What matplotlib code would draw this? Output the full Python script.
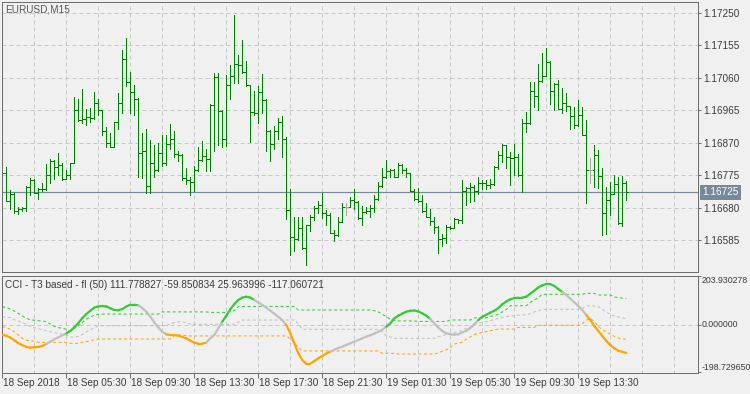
import matplotlib
matplotlib.use("Agg")
import matplotlib.pyplot as plt
import matplotlib.transforms as mtransforms
from matplotlib.collections import LineCollection
import numpy as np

plt.rcParams['font.family'] = ['Liberation Sans', 'DejaVu Sans']

# EURUSD M15, one bar every 15 min from 18 Sep 2018 01:30
symbol = 'EURUSD,M15'
first_open = 1.16790
highs = [1.16796, 1.16798, 1.16732, 1.16724, 1.16683, 1.16683, 1.16743, 1.16767, 1.16765, 1.16738,
         1.16751, 1.16808, 1.16821, 1.16820, 1.16839, 1.16810, 1.16790, 1.16810, 1.17004, 1.16997,
         1.17026, 1.16969, 1.16971, 1.17018, 1.16997, 1.16966, 1.16915, 1.16897, 1.16931, 1.17014,
         1.17141, 1.17176, 1.17077, 1.17040, 1.17000, 1.16897, 1.16909, 1.16878, 1.16862, 1.16868,
         1.16892, 1.16893, 1.16925, 1.16905, 1.16847, 1.16836, 1.16796, 1.16771, 1.16802, 1.16858,
         1.16874, 1.16852, 1.16983, 1.17075, 1.17075, 1.16966, 1.17067, 1.17096, 1.17244, 1.17127,
         1.17170, 1.17108, 1.17038, 1.17022, 1.17036, 1.17071, 1.16998, 1.16907, 1.16919, 1.16942,
         1.16948, 1.16886, 1.16736, 1.16652, 1.16654, 1.16652, 1.16629, 1.16658, 1.16685, 1.16700,
         1.16722, 1.16673, 1.16664, 1.16615, 1.16654, 1.16693, 1.16693, 1.16712, 1.16736, 1.16699,
         1.16685, 1.16683, 1.16689, 1.16718, 1.16755, 1.16796, 1.16819, 1.16794, 1.16794, 1.16810,
         1.16808, 1.16796, 1.16781, 1.16736, 1.16738, 1.16716, 1.16693, 1.16675, 1.16654, 1.16627,
         1.16603, 1.16629, 1.16627, 1.16650, 1.16648, 1.16761, 1.16741, 1.16753, 1.16745, 1.16771,
         1.16761, 1.16761, 1.16763, 1.16802, 1.16845, 1.16866, 1.16862, 1.16843, 1.16866, 1.16837,
         1.16940, 1.16960, 1.17047, 1.17047, 1.17100, 1.17131, 1.17147, 1.17108, 1.17044, 1.17053,
         1.17030, 1.17016, 1.16977, 1.16973, 1.16995, 1.16973, 1.16936, 1.16825, 1.16862, 1.16849,
         1.16796, 1.16741, 1.16755, 1.16775, 1.16771, 1.16774, 1.16757]
lows = [1.16773, 1.16699, 1.16675, 1.16665, 1.16662, 1.16671, 1.16671, 1.16718, 1.16722, 1.16706,
        1.16730, 1.16732, 1.16751, 1.16763, 1.16776, 1.16761, 1.16763, 1.16765, 1.16810, 1.16933,
        1.16927, 1.16921, 1.16931, 1.16940, 1.16952, 1.16892, 1.16857, 1.16857, 1.16857, 1.16911,
        1.16958, 1.17036, 1.16956, 1.16952, 1.16769, 1.16767, 1.16724, 1.16722, 1.16769, 1.16788,
        1.16802, 1.16805, 1.16851, 1.16827, 1.16816, 1.16761, 1.16749, 1.16716, 1.16730, 1.16788,
        1.16817, 1.16786, 1.16786, 1.16847, 1.16862, 1.16858, 1.16860, 1.16999, 1.17045, 1.17045,
        1.17073, 1.17036, 1.16872, 1.16950, 1.16927, 1.16956, 1.16845, 1.16817, 1.16851, 1.16882,
        1.16829, 1.16646, 1.16543, 1.16554, 1.16586, 1.16558, 1.16513, 1.16613, 1.16644, 1.16664,
        1.16650, 1.16630, 1.16605, 1.16582, 1.16598, 1.16638, 1.16658, 1.16681, 1.16677, 1.16648,
        1.16630, 1.16664, 1.16652, 1.16667, 1.16703, 1.16740, 1.16767, 1.16771, 1.16769, 1.16771,
        1.16782, 1.16771, 1.16728, 1.16703, 1.16697, 1.16667, 1.16652, 1.16630, 1.16607, 1.16548,
        1.16568, 1.16578, 1.16617, 1.16620, 1.16634, 1.16636, 1.16689, 1.16697, 1.16699, 1.16720,
        1.16734, 1.16736, 1.16738, 1.16747, 1.16794, 1.16814, 1.16796, 1.16747, 1.16775, 1.16773,
        1.16726, 1.16901, 1.16924, 1.16975, 1.16966, 1.17047, 1.17065, 1.16983, 1.16966, 1.16968,
        1.16956, 1.16962, 1.16911, 1.16913, 1.16919, 1.16892, 1.16695, 1.16753, 1.16740, 1.16738,
        1.16601, 1.16604, 1.16660, 1.16720, 1.16632, 1.16626, 1.16703]
closes = [1.16781, 1.16700, 1.16720, 1.16671, 1.16677, 1.16680, 1.16741, 1.16761, 1.16724, 1.16736,
          1.16734, 1.16776, 1.16817, 1.16798, 1.16804, 1.16763, 1.16775, 1.16810, 1.16966, 1.16936,
          1.16938, 1.16946, 1.16942, 1.16985, 1.16966, 1.16903, 1.16870, 1.16858, 1.16931, 1.16985,
          1.17114, 1.17047, 1.17018, 1.16997, 1.16839, 1.16847, 1.16743, 1.16810, 1.16790, 1.16839,
          1.16810, 1.16866, 1.16882, 1.16837, 1.16833, 1.16767, 1.16761, 1.16755, 1.16790, 1.16819,
          1.16831, 1.16823, 1.16981, 1.17061, 1.16964, 1.16882, 1.17040, 1.17065, 1.17100, 1.17096,
          1.17077, 1.17038, 1.16960, 1.16958, 1.17018, 1.16995, 1.16905, 1.16866, 1.16905, 1.16931,
          1.16880, 1.16673, 1.16595, 1.16589, 1.16621, 1.16562, 1.16629, 1.16652, 1.16679, 1.16689,
          1.16664, 1.16660, 1.16605, 1.16601, 1.16638, 1.16683, 1.16683, 1.16703, 1.16697, 1.16650,
          1.16667, 1.16669, 1.16679, 1.16705, 1.16743, 1.16769, 1.16788, 1.16790, 1.16771, 1.16804,
          1.16790, 1.16781, 1.16728, 1.16705, 1.16699, 1.16669, 1.16654, 1.16640, 1.16624, 1.16589,
          1.16592, 1.16624, 1.16622, 1.16646, 1.16644, 1.16728, 1.16738, 1.16741, 1.16730, 1.16753,
          1.16751, 1.16747, 1.16749, 1.16800, 1.16835, 1.16862, 1.16827, 1.16825, 1.16829, 1.16775,
          1.16928, 1.16927, 1.17020, 1.17007, 1.17049, 1.17065, 1.17106, 1.17022, 1.17042, 1.16969,
          1.16987, 1.16977, 1.16948, 1.16923, 1.16950, 1.16892, 1.16790, 1.16790, 1.16834, 1.16773,
          1.16665, 1.16703, 1.16721, 1.16748, 1.16635, 1.16752, 1.16725]
opens = [first_open] + closes[:-1]   # FX bars open at the previous close

price_ticks = [1.16585, 1.16680, 1.16775, 1.16870, 1.16965, 1.17060, 1.17155, 1.17250]
last_price = 1.16725

time_label_bars = [0, 16, 32, 48, 64, 80, 96, 112, 128, 144]
time_labels = ['18 Sep 2018', '18 Sep 05:30', '18 Sep 09:30', '18 Sep 13:30', '18 Sep 17:30',
               '18 Sep 21:30', '19 Sep 01:30', '19 Sep 05:30', '19 Sep 09:30', '19 Sep 13:30']

# CCI (T3 based) with floating levels
cci_title = 'CCI - T3 based - fl (50) 111.778827 -59.850834 25.963996 -117.060721'
cci = [-42, -45, -53, -64, -76, -85, -92, -95, -94, -92,
       -88, -80, -70, -60, -52, -43, -36, -25, -10, 8,
       29, 46, 60, 73, 78, 80, 78, 70, 63, 62,
       67, 78, 85, 85, 83, 71, 56, 35, 11, -10,
       -29, -39, -42, -42, -45, -50, -56, -66, -74, -78,
       -78, -74, -56, -42, -14, 14, 39, 66, 88, 105,
       115, 119, 115, 105, 95, 84, 73, 60, 48, 34,
       20, 0, -35, -77, -119, -147, -163, -163, -151, -140,
       -130, -120, -112, -104, -97, -91, -84, -77, -70, -63,
       -56, -49, -43, -36, -28, -20, -7, 7, 28, 39,
       48, 56, 60, 61, 57, 49, 39, 25, 7, -11,
       -25, -35, -39, -41, -39, -31, -24, -13, 3, 21,
       35, 43, 52, 60, 71, 87, 99, 108, 113, 115,
       115, 119, 132, 144, 158, 167, 172, 172, 164, 151,
       139, 126, 111, 95, 80, 63, 42, 21, -4, -25,
       -46, -67, -84, -98, -108, -113, -117.060721]
level_up = [77, 73, 67, 59, 49, 38, 28, 22, 20, 18,
            17, 14, 4, -6, -11, -14, -18, -27, -14, -3,
            11, 24, 34, 41, 45, 46, 46, 46, 46, 46,
            46, 46, 46, 46, 46, 46, 46, 46, 46, 46,
            55, 55, 55, 55, 55, 55, 55, 55, 55, 55,
            55, 55, 53, 53, 53, 53, 53, 56, 60, 78,
            78, 78, 78, 78, 78, 78, 78, 78, 78, 78,
            78, 78, 78, 78, 63, 63, 63, 63, 63, 63,
            63, 63, 63, 63, 63, 63, 63, 63, 63, 63,
            63, 63, 63, 60, 55, 45, 35, 25, 20, 17,
            17, 17, 17, 17, 15, 15, 15, 15, 15, 15,
            15, 15, 21, 21, 21, 21, 21, 21, 30, 30,
            30, 30, 35, 40, 45, 55, 65, 81, 81, 81,
            81, 81, 95, 105, 115, 129, 129, 129, 129, 129,
            129, 129, 129, 129, 129, 129, 133, 133, 133, 126,
            126, 126, 126, 118, 115, 113, 111.778827]
level_mid = [35, 32, 31, 22, 17, 10, 3, -6, -11, -15,
             -20, -24, -28, -32, -35, -39, -43, -49, -52, -48,
             -39, -29, -20, -11, -6, -3, -3, -3, -3, -3,
             -3, -3, -3, -3, -3, -3, -3, -3, -3, -3,
             -3, -3, 5, 10, 13, 13, 10, 3, 3, 3,
             3, 3, 3, 3, 3, 3, 3, 3, 3, 12,
             21, 21, 21, 21, 21, 21, 21, 21, 21, 21,
             21, 21, 21, 21, 5, -18, -18, -18, -18, -18,
             -18, -18, -18, -18, -18, -18, -18, -18, -18, -18,
             -18, -18, -18, -18, -18, -30, -45, -50, -56, -56,
             -56, -56, -56, -56, -56, -56, -56, -56, -56, -49,
             -45, -40, -35, -31, -28, -21, -14, -7, 3, 7,
             11, 14, 18, 24, 28, 32, 35, 38, 39, 41,
             42, 43, 48, 55, 60, 66, 66, 66, 66, 66,
             66, 66, 66, 66, 66, 70, 80, 80, 80, 77,
             66, 53, 46, 38, 34, 30, 25.963996]
level_dn = [-7, -11, -18, -28, -42, -56, -63, -67, -68, -73,
            -73, -73, -73, -73, -73, -73, -73, -77, -77, -77,
            -73, -70, -66, -62, -59, -59, -59, -59, -59, -59,
            -59, -59, -59, -59, -59, -59, -59, -59, -59, -59,
            -59, -59, -59, -45, -42, -42, -45, -46, -46, -46,
            -46, -46, -46, -46, -46, -46, -46, -46, -46, -46,
            -46, -46, -46, -46, -46, -46, -46, -46, -46, -46,
            -46, -46, -58, -75, -95, -109, -109, -109, -109, -109,
            -109, -109, -109, -109, -109, -109, -109, -109, -109, -109,
            -109, -109, -109, -109, -109, -119, -119, -119, -119, -122,
            -122, -122, -122, -122, -122, -122, -122, -122, -122, -118,
            -110, -105, -95, -80, -77, -72, -60, -50, -40, -35,
            -32, -28, -24, -20, -17, -17, -17, -17, -17, -10,
            -10, -10, -10, -10, -1, -1, -1, -1, -1, -1,
            -1, -1, -1, -1, -1, 5, 20, 28, 15, -5,
            -20, -30, -38, -48, -55, -58, -59.850834]
# line colour of each bar: 1 green, 0 neutral, -1 orange
cci_state = [-1, -1, -1, -1, -1, -1, -1, -1, -1, -1, -1, -1, 0, 0, 0, 0, 0,
             1, 1, 1, 1, 1, 1, 1, 1, 1, 1, 1, 1, 1, 1, 1, 1, 1, 1,
             0, 0, 0, 0, 0, 0, 0, -1, -1, -1, -1, -1, -1, -1, -1, -1, -1,
             0, 0, 0, 0, 1, 1, 1, 1, 1, 1, 1, 1, 0, 0, 0, 0, 0, 0, 0, 0,
             -1, -1, -1, -1, -1, -1, -1, -1, -1, -1, -1,
             0, 0, 0, 0, 0, 0, 0, 0, 0, 0, 0, 0, 0, 0,
             1, 1, 1, 1, 1, 1, 1, 1, 1, 1, 1,
             0, 0, 0, 0, 0, 0, 0, 0, 0, 0, 0, 0,
             1, 1, 1, 1, 1, 1, 1, 1, 1, 1, 1, 1, 1, 1, 1, 1, 1, 1, 1, 1, 1,
             0, 0, 0, 0, 0, 0, -1, -1, -1, -1, -1, -1, -1, -1, -1, -1]
cci_ticks = [203.930278, 0.0, -198.729650]
cci_tick_labels = ['203.930278', '0.000000', '-198.729650']

# colours
BG = '#f0f0f0'
FRAME = '#6e6e6e'
GRID = '#c8c8c8'
TEXT = '#3c3c3c'
BAR = '#008000'
DOJI = '#a8a8a8'
PRICE_LINE = '#778899'
C_UP, C_MID, C_DN = '#32cd32', '#c0c0c0', '#ffa500'
state_colors = {1: C_UP, 0: C_MID, -1: C_DN}

PX = 0.72  # points per pixel at dpi 100
FS = 7.2
W, H = 750, 394

fig = plt.figure(figsize=(W / 100, H / 100), dpi=100, facecolor=BG)


def px_axes(left, top, right, bottom):
    return fig.add_axes([left / W, 1 - bottom / H, (right - left) / W, (bottom - top) / H])


ax = px_axes(2, 2, 698, 272)
axc = px_axes(2, 276, 698, 373)

idx = np.arange(len(closes))
xmin, xmax = -0.075, 173.925
grid_bars = np.arange(8, xmax, 8)

for a in (ax, axc):
    a.set_facecolor(BG)
    a.set_xlim(xmin, xmax)
    for s in a.spines.values():
        s.set_color(FRAME)
        s.set_linewidth(PX)
    a.vlines(grid_bars, -1e3, 1e3, colors=GRID, lw=PX, linestyles=(0, (4, 3)), zorder=0)

# ---- price panel ----
ax.set_ylim(1.164920, 1.172813)
ax.hlines(price_ticks, xmin, xmax, colors=GRID, lw=PX, linestyles=(0, (4, 3)), zorder=0)
ax.axhline(last_price, color=PRICE_LINE, lw=PX * 1.2, zorder=1)

o = np.array(opens)
c = np.array(closes)
bar_cols = np.where(np.abs(o - c) < 1e-7, DOJI, BAR)
ax.vlines(idx, lows, highs, colors=bar_cols, lw=PX, antialiased=False, zorder=2)
ax.hlines(o, idx - 0.3, idx, colors=bar_cols, lw=PX, antialiased=False, zorder=2)
ax.hlines(c, idx, idx + 0.3, colors=bar_cols, lw=PX, antialiased=False, zorder=2)

ax.yaxis.tick_right()
ax.set_yticks(price_ticks)
ax.set_yticklabels(['%.5f' % p for p in price_ticks])
ax.tick_params(axis='y', direction='out', length=3 * PX, width=PX, color=FRAME,
               pad=1.5, labelsize=FS, labelcolor=TEXT)
ax.tick_params(axis='x', length=0, labelbottom=False)

ax.text(4.7 / W, 1 - 9.5 / H, symbol, transform=fig.transFigure, fontsize=FS,
        color='#5a5a5a', va='center', ha='left')

bt = mtransforms.blended_transform_factory(fig.transFigure, ax.transData)
ax.text(702.5 / W, last_price, '%.5f' % last_price, transform=bt, fontsize=FS, color='white',
        va='center', ha='left', clip_on=False,
        bbox=dict(boxstyle='square,pad=0.25', facecolor=PRICE_LINE, edgecolor='none'))

# ---- CCI panel ----
axc.set_ylim(-201.7, 205.9)
axc.axhline(0, color=GRID, lw=PX, linestyle=(0, (4, 3)), zorder=0)
axc.plot(idx, level_up, color=C_UP, lw=PX, linestyle=(0, (3, 2.5)), zorder=1)
axc.plot(idx, level_mid, color=C_MID, lw=PX, linestyle=(0, (3, 2.5)), zorder=1)
axc.plot(idx, level_dn, color=C_DN, lw=PX, linestyle=(0, (3, 2.5)), zorder=1)

pts = np.column_stack([idx, cci])
segs = [pts[i - 1:i + 1] for i in range(1, len(pts))]
seg_cols = [state_colors[s] for s in cci_state[1:]]
axc.add_collection(LineCollection(segs, colors=seg_cols, linewidths=2.2 * PX,
                                  capstyle='round', zorder=3))

axc.set_yticks(cci_ticks)
axc.set_yticklabels([])
axc.yaxis.tick_right()
axc.tick_params(axis='y', direction='out', length=3 * PX, width=PX, color=FRAME)
ct = mtransforms.blended_transform_factory(fig.transFigure, axc.transData)
for v, lab, va in zip(cci_ticks, cci_tick_labels, ['top', 'center', 'bottom']):
    axc.text(702 / W, v, lab, transform=ct, fontsize=6.3, color=TEXT, va=va, ha='left',
             clip_on=False)

axc.set_xticks(time_label_bars)
axc.set_xticklabels([])
axc.tick_params(axis='x', direction='out', length=5 * PX, width=PX, color=FRAME)
xt = mtransforms.blended_transform_factory(axc.transData, fig.transFigure)
for b, lab in zip(time_label_bars, time_labels):
    axc.text(b + 0.2, 1 - 377.5 / H, lab, transform=xt, fontsize=FS, color=TEXT,
             va='top', ha='left', clip_on=False)

axc.text(5 / W, 1 - 284.5 / H, cci_title, transform=fig.transFigure, fontsize=FS,
         color=TEXT, va='center', ha='left')

fig.savefig('out.png', dpi=100, facecolor=BG)
